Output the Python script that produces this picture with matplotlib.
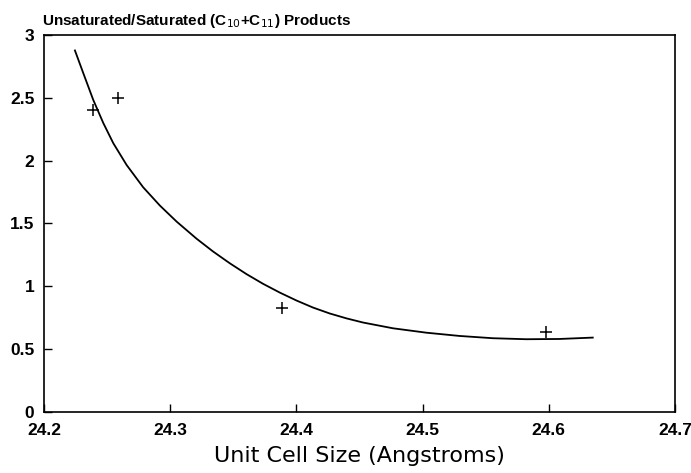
import matplotlib.pyplot as plt

# measured points (+ markers)
cell_size = [24.239, 24.259, 24.389, 24.598]
ratio = [2.40, 2.50, 0.83, 0.64]

# fitted curve
curve_x = [24.2245, 24.2311, 24.2390, 24.2470, 24.2549, 24.2655, 24.2786,
           24.2919, 24.3051, 24.3209, 24.3340, 24.3473, 24.3605, 24.3736,
           24.3869, 24.4001, 24.4132, 24.4264, 24.4397, 24.4528, 24.4766,
           24.5030, 24.5294, 24.5557, 24.5822, 24.6085, 24.6349]
curve_y = [2.877, 2.697, 2.484, 2.299, 2.139, 1.965, 1.788,
           1.642, 1.515, 1.379, 1.277, 1.183, 1.097, 1.020,
           0.950, 0.887, 0.831, 0.784, 0.745, 0.712, 0.666,
           0.631, 0.605, 0.587, 0.579, 0.581, 0.592]

x_ticks = [24.2, 24.3, 24.4, 24.5, 24.6, 24.7]
y_ticks = [0, 0.5, 1, 1.5, 2, 2.5, 3]
y_labels = ["0", "0.5", "1", "1.5", "2", "2.5", "3"]

plt.rcParams['font.family'] = ['Liberation Sans', 'DejaVu Sans']

fig = plt.figure(figsize=(6.91, 4.73), dpi=100)
ax = fig.add_axes([0.0637, 0.129, 0.913, 0.797])

ax.plot(curve_x, curve_y, color='black', lw=1.3, solid_joinstyle='round')
ax.plot(cell_size, ratio, ls='none', marker='+', ms=9, mew=1.1, color='black')

ax.set_xlim(24.2, 24.7)
ax.set_ylim(0, 3)
ax.set_xticks(x_ticks)
ax.set_xticklabels([f"{v:.1f}" for v in x_ticks], fontweight='bold', fontsize=12.5)
ax.set_yticks(y_ticks)
ax.set_yticklabels(y_labels, fontweight='bold', fontsize=12.5)
ax.tick_params(direction='in', length=6, width=1)
ax.tick_params(axis='x', pad=8)
ax.tick_params(axis='y', pad=7)
for s in ax.spines.values():
    s.set_linewidth(1.2)

ax.set_xlabel("Unit Cell Size (Angstroms)", fontsize=16, family='DejaVu Sans', labelpad=6)
fig.text(0.061, 0.947, "Unsaturated/Saturated (C$_{10}$+C$_{11}$) Products",
         fontsize=11, fontweight='bold', ha='left', va='baseline')

fig.savefig("out.png", dpi=100)
